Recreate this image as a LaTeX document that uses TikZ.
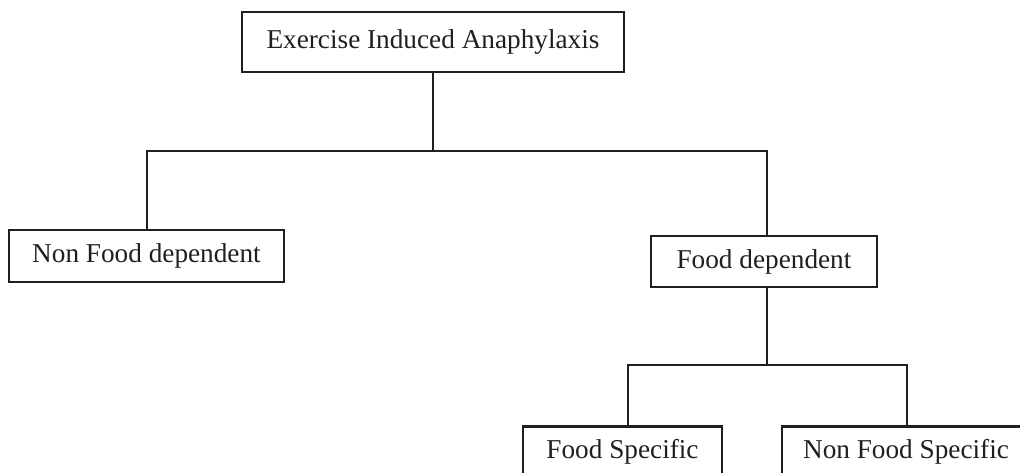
\documentclass[tikz,border=0pt]{standalone}
\usepackage{fontspec}
\setmainfont{Liberation Serif}
\begin{document}
\begin{tikzpicture}[x=1pt,y=-1pt,
  ink/.style={line width=2.5pt,draw=black!88},
  catbox/.style={ink,rectangle,inner sep=0pt,fill=white,text=black!88,
    font=\fontsize{27.25}{32}\selectfont},
  link/.style={ink,line cap=rect}]
\useasboundingbox (0,0) rectangle (1020,473);
\clip (0,0) rectangle (1020,473);

% category boxes
\node[catbox,minimum width=382pt,minimum height=60pt] (eia) at (433,42) {Exercise Induced Anaphylaxis};
\node[catbox,minimum width=275pt,minimum height=52pt] (nfd) at (146.5,256) {Non Food dependent};
\node[catbox,minimum width=226pt,minimum height=51pt] (fd) at (764,261.5) {Food dependent};
\node[catbox,minimum width=199pt,minimum height=52pt,anchor=north] (fs) at (622.5,425) {Food Specific};
\node[catbox,minimum width=248pt,minimum height=52pt,anchor=north] (nfs) at (906,425) {Non Food Specific};

% branching bars
\coordinate (barAL) at (147,151);
\coordinate (barAR) at (767,151);
\coordinate (barAM) at (433,151);
\coordinate (barBL) at (628,365);
\coordinate (barBR) at (907,365);
\coordinate (barBM) at (767,365);

\draw[link] (eia.south) -- (barAM);
\draw[link] (nfd.north -| barAL) -- (barAL) -- (barAR) -- (fd.north -| barAR);
\draw[link] (fd.south -| barBM) -- (barBM);
\draw[link] (fs.north -| barBL) -- (barBL) -- (barBR) -- (nfs.north -| barBR);
\end{tikzpicture}
\end{document}
